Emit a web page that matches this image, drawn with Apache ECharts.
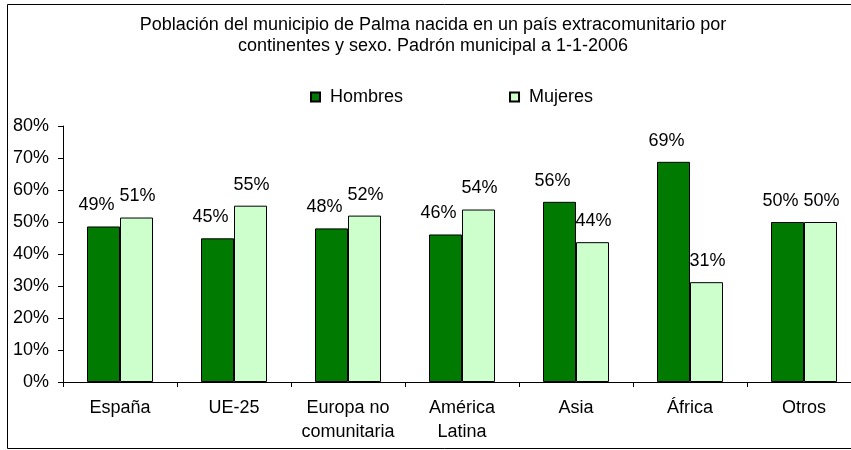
<!DOCTYPE html>
<html>
<head>
    <meta charset="UTF-8">
    <title>Padrón municipal Palma 2006</title>
    <script src="https://cdn.jsdelivr.net/npm/echarts@6/dist/echarts.min.js"></script>
    <style>
        html, body { margin: 0; padding: 0; background: #fff; overflow: hidden; }
        /* el gráfico original sale recortado por la derecha */
        #chart { width: 880px; height: 450px; }
    </style>
</head>
<body>
<div id="chart"></div>
<script>
    var categories = ['España', 'UE-25', 'Europa no\ncomunitaria', 'América\nLatina', 'Asia', 'África', 'Otros'];
    var hombres = [48.6, 44.9, 48.0, 46.1, 56.3, 68.8, 50.0];
    var mujeres = [51.4, 55.1, 52.0, 53.9, 43.7, 31.2, 50.0];
    var yTicks = [0, 10, 20, 30, 40, 50, 60, 70, 80];

    var font = '"Liberation Sans", Arial, sans-serif';
    var chart = echarts.init(document.getElementById('chart'));

    function pct(p) { return Math.round(p.value) + '%'; }

    var option = {
        animation: false,
        textStyle: { fontFamily: font },
        title: {
            text: 'Población del municipio de Palma nacida en un país extracomunitario por\ncontinentes y sexo. Padrón municipal a 1-1-2006',
            left: 428,
            textAlign: 'center',
            top: 10,
            textStyle: { fontSize: 18, fontWeight: 'normal', color: '#000', lineHeight: 21, fontFamily: font }
        },
        legend: {
            top: 83,
            left: 305,
            itemWidth: 9,
            itemHeight: 9,
            itemGap: 106,
            icon: 'rect',
            textStyle: { fontSize: 18, color: '#000', fontFamily: font, padding: [0, 0, 0, 5] },
            data: ['Hombres', 'Mujeres']
        },
        graphic: [{
            type: 'rect',
            shape: { x: 7.5, y: 4.5, width: 900, height: 444 },
            style: { fill: 'none', stroke: '#000', lineWidth: 1 },
            silent: true
        }],
        grid: { left: 63, right: 19, top: 126, bottom: 68 },
        xAxis: {
            type: 'category',
            data: categories,
            axisLine: { lineStyle: { color: '#000' } },
            axisTick: { show: true, alignWithLabel: false, length: 5, lineStyle: { color: '#000' } },
            axisLabel: { color: '#000', fontSize: 18, margin: 14, lineHeight: 24, interval: 0, fontFamily: font }
        },
        yAxis: {
            type: 'value',
            min: 0,
            max: 80,
            interval: 10,
            splitLine: { show: false },
            axisLine: { show: true, lineStyle: { color: '#000' } },
            axisTick: { show: true, length: 5, lineStyle: { color: '#000' } },
            axisLabel: {
                color: '#000', fontSize: 18, margin: 14, fontFamily: font,
                formatter: function (v) { return yTicks.indexOf(v) >= 0 ? v + '%' : ''; }
            }
        },
        series: [{
            name: 'Hombres',
            type: 'bar',
            data: hombres,
            barWidth: 33,
            barGap: '0%',
            itemStyle: { color: '#007A00', borderColor: '#000', borderWidth: 1 },
            label: { show: true, position: 'top', distance: 12, offset: [-7, 0], color: '#000', fontSize: 18, formatter: pct, fontFamily: font }
        }, {
            name: 'Mujeres',
            type: 'bar',
            data: mujeres,
            barWidth: 33,
            itemStyle: { color: '#CCFFCC', borderColor: '#000', borderWidth: 1 },
            label: { show: true, position: 'top', distance: 12, offset: [1, 0], color: '#000', fontSize: 18, formatter: pct, fontFamily: font }
        }]
    };

    chart.setOption(option);
</script>
</body>
</html>
